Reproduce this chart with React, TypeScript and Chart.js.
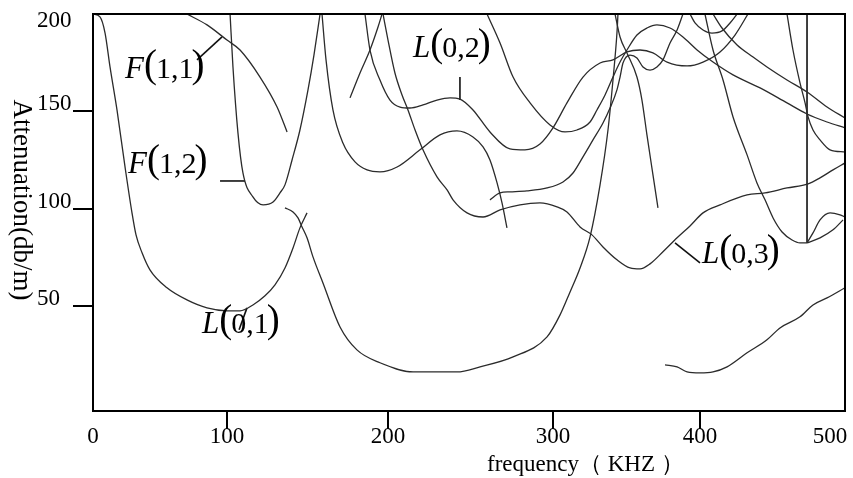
import React, { useEffect, useRef } from 'react';
import { Chart, LinearScale, registerables } from 'chart.js';

// ---- axis ticks (kHz / dB per m) ----
const X_TICKS = [0, 100, 200, 300, 400, 500];
const X_TICK_MARKS = [100, 200, 300, 400];
const Y_TICKS = [50, 100, 150, 200];
const Y_TICK_MARKS = [50, 100, 150];
const X_MIN = 0;
const X_MAX = 511.5;
const Y_MIN = -4;
const Y_MAX = 200;

// ---- curves: [frequency kHz, attenuation dB/m] ----
const L01_low = [[0,200],[5.2,198.5],[9,190.2],[12.7,172.8],[17.9,150.7],[23.9,121.4],[29.1,97.8],[32.1,86.5],[36.6,77.3],[42.5,68.5],[55.2,59.3],[70.1,53.1],[85.1,49],[100,47.5],[108.1,47.5],[116.1,50.5],[123.6,55.2],[129.8,60.8],[136,69.5],[141,79.8],[145.3,90.1],[149.7,97.8]];
const F11 = [[70.1,200],[85.1,194.4],[100,186.6],[108.1,181.5],[120.5,167.6],[131.1,152.2],[137.3,139.4]];
const F12 = [[101.9,200],[103.7,172.8],[106.8,138.9],[109.9,118.3],[116.1,106],[122.4,101.9],[128.6,103.4],[132.9,108.1],[136,112.2],[140.4,125],[145.3,140.4],[150.3,161],[154,178.9],[157.8,200]];
const L01_high = [[136,100.4],[141,98.3],[144.1,95.2],[146.6,90.6],[149.7,85],[153.4,75.2],[159.6,61.8],[170.2,39.2],[180.7,27.4],[195,20.8],[215.2,16.1],[241.8,16.1],[255.8,18.7],[275.8,23.8],[296.4,34.1],[304.8,45.4],[311.6,57.2],[318.4,69.5],[325.2,85.5],[332,112.2],[337.4,140.4],[340.8,166.1],[343.5,190.2],[344.2,200]];
const modeC = [[342.2,200],[345.6,188.2],[350.3,180],[357.1,167.6],[360.5,155.8],[363.9,137.9],[368,117.3],[371.4,100.4]];
const modeG = [[159,200],[161.5,176.4],[165.8,150.7],[172,133.7],[179.5,124],[187,119.9],[195,118.9],[205.5,121.4],[219.4,130.2],[231.5,137.9],[241.8,139.9],[251.5,136.8],[257.6,131.7],[261.8,125],[266.1,113.2],[269.1,102.9],[272.1,90.1]];
const modeH = [[176.4,156.9],[182.6,169.7],[188.8,181.5],[193.8,193.3],[196.3,200]];
const L02 = [[185.7,200],[188.8,181.5],[195,166.1],[201.2,155.8],[207.3,152.2],[213.3,151.7],[221.2,153.3],[229.7,155.8],[237.6,156.9],[243.6,156.3],[251.5,150.7],[261.8,139.4],[273.9,130.7],[283,130.2],[292.1,133.2],[300,141.5],[309.5,154.3],[320.4,167.6],[332,174.8],[340.8,176.4],[350.3,180.5],[359.2,181.5],[368,180],[377.6,175.3],[391.2,173.3],[402.3,175.3],[415.4,180.5],[426.9,189.2],[436.9,200]];
const L03 = [[196.9,200],[200,186.6],[204.2,169.7],[208.5,158.4],[212.1,150.7],[216.4,140.4],[221.2,130.2],[229.7,116.3],[235.8,109.6],[239.4,104.5],[247.9,97.8],[257.6,95.7],[267.9,99.3],[280,101.9],[292.1,102.9],[302.7,100.9],[309.5,98.3],[318.4,90.6],[326.5,86.5],[334,80.3],[343.5,73.7],[352.4,69.5],[359.2,69],[366,71.6],[374.8,77.8],[384.4,85],[393.2,91.1],[402.3,97.8],[415.4,101.9],[436.2,107],[450,108.1],[466.9,110.6],[483.1,112.7],[492.3,115.8],[502.3,119.9],[511.5,123.5]];
const modeE = [[261.8,104.5],[267.9,108.1],[273.9,108.6],[284.2,109.1],[296.4,110.6],[306.8,113.7],[313.6,118.3],[320.4,126.6],[327.2,135.3],[334,144],[338.8,151.7],[343.5,161],[345.6,167.6],[347.6,174.8],[352.4,178.9],[357.1,177.4],[361.2,172.8],[366,171.2],[370.7,172.8],[374.8,176.4],[379.6,185.1],[384.4,191.8],[388.4,200]];
const modeD = [[260,200],[267.9,185.1],[275.8,167.6],[286.1,154.3],[298.2,143],[308.2,139.4],[316.3,140.4],[325.2,144.5],[329.9,150.7],[335.4,158.4],[340.8,167.6],[345.6,175.3],[350.3,181.5],[357.1,189.2],[363.9,192.8],[370.7,194.4],[379.6,192.8],[388.4,188.2],[398,181.5],[410,175.3],[425.4,168.7],[446.2,162],[466.9,154.3],[482.3,148.6],[497.7,144.5],[511.5,141.5]];
const modeK1 = [[410,200],[416.9,192.8],[428.5,184.1],[440.8,177.9],[451.5,172.8],[466.9,166.1],[482.3,159.9],[497.7,152.2],[511.5,146.6]];
const modeTopU = [[393.2,200],[396.6,195.4],[402.3,191.8],[409.2,190.2],[416.9,191.3],[423.1,195.4],[428.5,200]];
const modeJ = [[403.8,200],[410,181.5],[417.7,166.1],[425.4,147.1],[436.2,127.6],[443.8,113.2],[450,104.5],[456.2,95.2],[463.1,88],[470.8,83.9],[476.9,82.4],[482.3,82.4]];
const modeK3 = [[466.9,200],[471.5,181.5],[476.9,164.6],[480.8,154.3],[483.1,147.1],[486.9,140.4],[492.3,135.3],[500,130.2],[511.5,129.1]];
const leafUpper = [[482.3,82.4],[486.9,87.5],[492.3,94.2],[500,97.8],[507.7,96.8],[511.5,95.7]];
const leafLower = [[482.3,82.4],[492.3,85],[502.3,89.1],[510,94.2]];
const modeM = [[376.2,19.7],[384.4,18.7],[391.2,16.1],[400,15.6],[410,16.1],[420.8,18.7],[436.2,25.9],[451.5,32.6],[461.5,38.7],[476.9,44.4],[486.9,50.5],[497.7,54.1],[511.5,59.3]];

// straight segments
const cutoffLine = [[482.3,200],[482.3,82.4]];
const leaderF11 = [[77.6,176.4],[96.3,188.2]];
const leaderF12 = [[94.8,114.2],[111.2,114.2]];
const leaderL02 = [[243.6,167.6],[243.6,155.8]];
const leaderL01 = [[107.5,37.7],[112.4,49]];
const leaderL03 = [[383,82.4],[400,72.1]];

const SMOOTH = [L01_low, F11, F12, L01_high, modeC, modeG, modeH, L02, L03, modeE, modeD, modeK1, modeTopU, modeJ, modeK3, leafUpper, leafLower, modeM];
const STRAIGHT = [cutoffLine, leaderF11, leaderF12, leaderL02, leaderL01, leaderL03];

const MODE_LABELS = [
  { letter: 'F', inner: '1,1', x: 23.9, y: 167.1 },
  { letter: 'F', inner: '1,2', x: 26.1, y: 118.3 },
  { letter: 'L', inner: '0,2', x: 215.2, y: 177.9 },
  { letter: 'L', inner: '0,1', x: 81.3, y: 36.2 },
  { letter: 'L', inner: '0,3', x: 401.5, y: 72.1 },
];

const X_TITLE = 'frequency（ KHZ ）';
const Y_TITLE = 'Attenuation(db/m)';

// ---- non-uniform x axis of the original figure (piecewise linear) ----
const X_KNOT_VALUES = [0, 100, 200, 300, 400, 500, 511.5];
const X_KNOT_FRACTIONS = [0, 0.1782, 0.3923, 0.6117, 0.8072, 0.9801, 1];

class PiecewiseScale extends LinearScale {
  static id = 'piecewise';
  static defaults = LinearScale.defaults;
  getPixelForValue(value: number) {
    const v = X_KNOT_VALUES, f = X_KNOT_FRACTIONS;
    let i = 0;
    while (i < v.length - 2 && value > v[i + 1]) i++;
    const t = (value - v[i]) / (v[i + 1] - v[i]);
    return this.getPixelForDecimal(f[i] + t * (f[i + 1] - f[i]));
  }
  getValueForPixel(pixel: number) {
    const v = X_KNOT_VALUES, f = X_KNOT_FRACTIONS;
    const d = this.getDecimalForPixel(pixel);
    let i = 0;
    while (i < f.length - 2 && d > f[i + 1]) i++;
    return v[i] + ((d - f[i]) / (f[i + 1] - f[i])) * (v[i + 1] - v[i]);
  }
}

Chart.register(...registerables, PiecewiseScale as any);

const SERIF = '"Liberation Serif", "Times New Roman", serif';

function drawModeLabel(ctx: CanvasRenderingContext2D, letter: string, inner: string, x: number, y: number) {
  ctx.textAlign = 'left';
  ctx.textBaseline = 'alphabetic';
  ctx.font = `italic 31px ${SERIF}`;
  ctx.fillText(letter, x, y);
  let cx = x + ctx.measureText(letter).width;
  ctx.font = `39px ${SERIF}`;
  ctx.fillText('(', cx, y - 1);
  cx += ctx.measureText('(').width - 1;
  ctx.font = `30px ${SERIF}`;
  ctx.fillText(inner, cx, y);
  cx += ctx.measureText(inner).width - 2;
  ctx.font = `39px ${SERIF}`;
  ctx.fillText(')', cx, y - 1);
}

const decorPlugin = {
  id: 'decor',
  afterDatasetsDraw(chart: any) {
    const { ctx, chartArea: a, scales } = chart;
    const xs = scales.x, ys = scales.y;
    ctx.save();
    ctx.strokeStyle = '#000';
    ctx.lineWidth = 2;
    ctx.strokeRect(a.left, a.top, a.right - a.left, a.bottom - a.top);
    ctx.beginPath();
    Y_TICK_MARKS.forEach((v) => {
      const py = Math.round(ys.getPixelForValue(v));
      ctx.moveTo(a.left - 20, py);
      ctx.lineTo(a.left, py);
    });
    X_TICK_MARKS.forEach((v) => {
      const px = Math.round(xs.getPixelForValue(v));
      ctx.moveTo(px, a.bottom);
      ctx.lineTo(px, a.bottom + 18);
    });
    ctx.stroke();

    ctx.fillStyle = '#000';
    ctx.font = `23px ${SERIF}`;
    ctx.textBaseline = 'alphabetic';
    ctx.textAlign = 'center';
    X_TICKS.forEach((v) => ctx.fillText(String(v), xs.getPixelForValue(v), a.bottom + 32));
    ctx.textAlign = 'left';
    Y_TICKS.forEach((v) => ctx.fillText(String(v), a.left - 56, Math.max(ys.getPixelForValue(v) - 1, a.top + 13)));

    // axis titles
    ctx.font = `23px ${SERIF}`;
    ctx.textAlign = 'left';
    ctx.fillText(X_TITLE, 487, 471);
    ctx.save();
    ctx.translate(14, 200);
    ctx.rotate(Math.PI / 2);
    ctx.textAlign = 'center';
    ctx.font = `27px ${SERIF}`;
    ctx.fillText(Y_TITLE, 0, 0);
    ctx.restore();

    MODE_LABELS.forEach((m) => drawModeLabel(ctx, m.letter, m.inner, xs.getPixelForValue(m.x), ys.getPixelForValue(m.y)));
    ctx.restore();
  },
};

export default function App() {
  const ref = useRef<HTMLCanvasElement>(null);
  useEffect(() => {
    const toPts = (c: number[][]) => c.map(([x, y]) => ({ x, y }));
    const datasets: any[] = [
      ...SMOOTH.map((c) => ({
        data: toPts(c),
        borderColor: '#2b2b2b',
        borderWidth: 1.3,
        pointRadius: 0,
        fill: false,
        cubicInterpolationMode: 'monotone',
      })),
      ...STRAIGHT.map((c) => ({
        data: toPts(c),
        borderColor: '#111',
        borderWidth: 1.6,
        pointRadius: 0,
        fill: false,
        tension: 0,
      })),
    ];
    const chart = new Chart(ref.current as HTMLCanvasElement, {
      type: 'line',
      data: { datasets },
      options: {
        animation: false,
        responsive: false,
        maintainAspectRatio: false,
        events: [],
        layout: { padding: { left: 93, top: 14, right: 8, bottom: 67 } },
        plugins: { legend: { display: false }, tooltip: { enabled: false }, title: { display: false } },
        scales: {
          x: { type: 'piecewise' as any, min: X_MIN, max: X_MAX, display: false },
          y: { type: 'linear', min: Y_MIN, max: Y_MAX, display: false },
        },
      },
      plugins: [decorPlugin],
    });
    return () => chart.destroy();
  }, []);
  return (
    <div style={{ position: 'fixed', left: 0, top: 0, width: 853, height: 478, background: '#fff' }}>
      <canvas ref={ref} width={853} height={478} style={{ display: 'block' }} />
    </div>
  );
}
